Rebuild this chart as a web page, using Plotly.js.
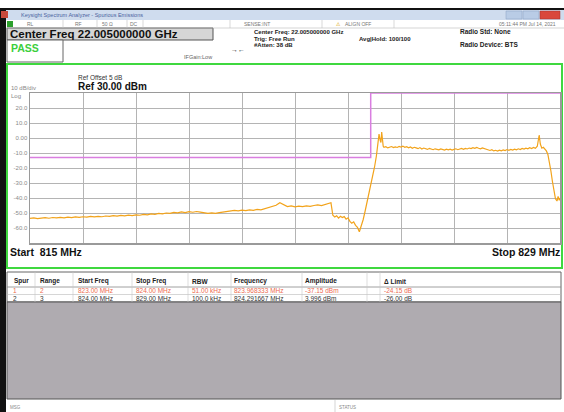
<!DOCTYPE html>
<html><head><meta charset="utf-8">
<script src="https://cdn.plot.ly/plotly-3.0.1.min.js"></script>
<style>html,body{margin:0;padding:0;background:#fff;overflow:hidden}#chart{width:564px;height:412px}</style>
</head><body><div id="chart"></div>
<script>
// ---- trace data ----
const freqMHz = [
815.0,815.1,815.2,815.3,815.4,815.5,815.6,815.7,815.8,815.9,
816.0,816.1,816.2,816.3,816.4,816.5,816.6,816.7,816.8,816.9,
817.0,817.1,817.2,817.3,817.4,817.5,817.6,817.7,817.8,817.9,
818.0,818.1,818.2,818.3,818.4,818.5,818.6,818.7,818.8,818.9,
819.0,819.1,819.2,819.3,819.4,819.5,819.6,819.7,819.8,819.9,
820.0,820.1,820.2,820.3,820.4,820.5,820.6,820.7,820.8,820.9,
821.0,821.1,821.2,821.3,821.4,821.5,821.6,821.7,821.8,821.9,
822.0,822.1,822.2,822.3,822.4,822.5,822.6,822.7,822.8,822.9,
822.95,823.0,823.05,823.1,823.15,823.2,823.25,823.3,823.35,823.4,
823.45,823.5,823.55,823.6,823.65,823.7,823.75,823.8,823.85,823.9,
823.95,824.0,824.05,824.1,824.15,824.18,824.2,824.22,824.25,824.27,
824.29,824.31,824.33,824.35,
824.40,824.45,824.50,824.55,824.60,824.65,824.70,824.75,824.80,824.85,
824.90,824.95,825.00,825.05,825.10,825.15,825.20,825.25,825.30,825.35,
825.40,825.45,825.50,825.55,825.60,825.65,825.70,825.75,825.80,825.85,
825.90,825.95,826.00,826.05,826.10,826.15,826.20,826.25,826.30,826.35,
826.40,826.45,826.50,826.55,826.60,826.65,826.70,826.75,826.80,826.85,
826.90,826.95,827.00,827.05,827.10,827.15,827.20,827.25,827.30,827.35,
827.40,827.45,827.50,827.55,827.60,827.65,827.70,827.75,827.80,827.85,
827.90,827.95,828.00,828.05,828.10,828.15,828.20,828.25,828.30,828.35,
828.40,828.43,828.45,828.48,828.52,828.56,828.60,828.64,828.68,828.72,
828.76,828.80,828.84,828.88,828.92,828.95,828.98,829.00
];
const ampDbm = [
-53.6,-53.2,-53.8,-53.4,-53.1,-53.5,-53.0,-53.3,-52.9,-53.2,
-52.8,-53.1,-52.6,-52.9,-52.5,-52.8,-52.3,-52.6,-52.2,-52.5,
-52.0,-52.3,-51.8,-52.1,-51.6,-51.9,-51.4,-51.7,-51.2,-51.5,
-50.9,-51.2,-50.6,-50.9,-50.3,-50.6,-50.0,-50.3,-49.6,-49.9,
-49.3,-49.7,-49.1,-49.5,-49.0,-49.4,-49.8,-50.2,-49.9,-50.3,
-49.7,-49.4,-49.0,-48.8,-48.3,-48.6,-48.1,-48.4,-47.9,-48.2,
-47.6,-47.9,-47.2,-46.5,-45.6,-44.8,-43.2,-44.6,-45.7,-45.3,
-45.9,-45.4,-45.8,-45.2,-45.6,-45.0,-44.6,-45.1,-44.4,-43.8,
-43.2,-51.5,-52.6,-51.8,-53.4,-52.2,-53.0,-52.4,-54.1,-53.2,
-55.6,-56.8,-55.9,-58.2,-59.6,-62.5,-58.8,-54.5,-49.0,-43.5,
-36.0,-30.5,-25.5,-19.5,-12.0,-4.0,1.0,2.6,-1.5,-3.0,
4.0,-2.5,-5.5,-6.2,
-5.8,-6.6,-6.1,-5.7,-6.4,-5.9,-6.3,-5.6,-6.0,-5.4,
-6.2,-5.8,-6.5,-6.0,-6.8,-6.2,-6.6,-7.1,-6.4,-7.3,
-6.7,-7.0,-7.6,-6.9,-7.4,-7.8,-7.2,-7.6,-7.9,-7.3,
-7.7,-8.1,-7.5,-7.9,-7.4,-8.0,-7.6,-7.2,-7.8,-7.3,
-7.0,-7.5,-6.9,-7.3,-6.7,-7.1,-6.5,-6.9,-6.3,-6.8,
-7.2,-6.6,-7.0,-7.5,-7.9,-8.3,-7.8,-8.6,-8.2,-8.7,
-8.1,-8.5,-7.9,-8.4,-7.7,-8.2,-7.6,-8.0,-7.4,-7.9,
-7.2,-7.7,-7.0,-7.4,-6.8,-7.2,-6.5,-7.0,-6.3,-6.9,
-5.5,-1.0,2.0,-4.0,-6.8,-6.2,-7.5,-8.6,-11.0,-15.5,
-22.0,-29.0,-36.0,-40.5,-42.0,-39.0,-41.5,-40.0
];
const limitFreqMHz = [815, 824, 824, 829];
const limitDbm = [-13, -13, 30, 30];
const yTickVals = [20, 10, 0, -10, -20, -30, -40, -50, -60];
const yTickText = ['20.0','10.0','0.00','-10.0','-20.0','-30.0','-40.0','-50.0','-60.0'];
const xGridMHz = [816.4, 817.8, 819.2, 820.6, 822.0, 823.4, 824.8, 826.2, 827.6];
const tableHeader = ['Spur','Range','Start Freq','Stop Freq','RBW','Frequency','Amplitude','\u0394 Limit'];
const spurRow1 = ['1','2','823.00 MHz','824.00 MHz','51.00 kHz','823.968333 MHz','-37.15 dBm','-24.15 dB'];
const spurRow2 = ['2','3','824.00 MHz','829.00 MHz','100.0 kHz','824.291667 MHz','3.996 dBm','-26.00 dB'];

// ---- page geometry helpers (pixel -> paper) ----
const W = 564, H = 412;
const px = x => x / W;
const py = y => 1 - y / H;
const FONT = 'Liberation Sans, Arial, sans-serif';

const shapes = [];
const ann = [];
function rect(x0, y0, x1, y1, fill, line, lw) {
  shapes.push({type:'rect', xref:'paper', yref:'paper', x0:px(x0), x1:px(x1), y0:py(y1), y1:py(y0),
    fillcolor: fill || 'rgba(0,0,0,0)', line:{color: line || 'rgba(0,0,0,0)', width: lw || 0}, layer:'below'});
}
function hline(x0, x1, y, color, w) {
  shapes.push({type:'line', xref:'paper', yref:'paper', x0:px(x0), x1:px(x1), y0:py(y), y1:py(y), line:{color, width:w||1}});
}
function vline(x, y0, y1, color, w) {
  shapes.push({type:'line', xref:'paper', yref:'paper', x0:px(x), x1:px(x), y0:py(y0), y1:py(y1), line:{color, width:w||1}});
}
function txt(x, y, s, size, color, opts) {
  opts = opts || {};
  ann.push({xref:'paper', yref:'paper', x:px(x), y:py(y), text:s, showarrow:false,
    xanchor: opts.anchor || 'left', yanchor:'middle', borderpad:0,
    font:{family: FONT, size, color, weight: opts.bold ? 'bold' : 'normal'}});
}

// window frame
rect(0, 0, 564, 9, '#ffffff');
rect(0, 8, 564, 10, '#111111');
rect(0, 8, 6, 412, '#111111');
// title bar
rect(6, 10, 564, 20, '#cfdcee');
rect(1, 11, 8, 18, '#c84a3c');
txt(20, 15, 'Keysight Spectrum Analyzer - Spurious Emissions', 5.5, '#4a63a0');
rect(506, 11, 522, 19, '#b9cce6', '#8aa0c0', 0.5);
rect(523, 11, 539, 19, '#b9cce6', '#8aa0c0', 0.5);
rect(540, 11, 560, 19, '#d9473c', '#a03028', 0.5);
// status row
rect(6, 20, 564, 28, '#ffffff');
hline(6, 564, 28, '#b8b8b8', 0.6);
rect(7, 21, 13, 27, '#2da02d');
[63, 97, 127, 143, 230, 322, 394].forEach(x => vline(x, 20, 28, '#c0c0c0', 0.6));
txt(26, 24, 'RL', 5, '#777');
txt(74, 24, 'RF', 5, '#777');
txt(101, 24, '50 \u03A9', 5, '#777');
txt(129, 24, 'DC', 5, '#777');
txt(243, 24, 'SENSE:INT', 5, '#777');
txt(335, 24, '\u26A0', 5, '#d8a000');
txt(344, 24, 'ALIGN OFF', 5, '#777');
txt(557, 24, '05:11:44 PM Jul 14, 2021', 5, '#777', {anchor:'right'});
// center freq box
rect(7, 28, 213, 40, '#d6d6d6', '#555555', 1);
txt(9, 34, 'Center Freq 22.005000000 GHz', 11.5, '#111', {bold:true});
// PASS box
rect(7, 40, 63, 62, '#ffffff', '#666666', 1);
txt(10, 48, 'PASS', 10.5, '#3ccf3c', {bold:true});
txt(183, 57, 'IFGain:Low', 5.5, '#666');
txt(230, 49, '\u2192\u2190', 7, '#333');
txt(253, 32, 'Center Freq: 22.005000000 GHz', 6, '#222', {bold:true});
txt(253, 38.5, 'Trig: Free Run', 6, '#222', {bold:true});
txt(253, 45, '#Atten: 38 dB', 6, '#222', {bold:true});
txt(358, 38.5, 'Avg|Hold: 100/100', 6, '#222', {bold:true});
txt(459, 32, 'Radio Std: None', 6.5, '#222', {bold:true});
txt(459, 45, 'Radio Device: BTS', 6.5, '#222', {bold:true});
// green panel
rect(7, 64, 562, 268, '#ffffff', '#3fd83f', 2);
txt(77, 77, 'Ref Offset 5 dB', 6.5, '#333');
txt(77, 86, 'Ref 30.00 dBm', 10, '#111', {bold:true});
txt(10, 88, '10 dB/div', 6, '#888');
txt(10, 96, 'Log', 6, '#888');
txt(9, 252, 'Start  815 MHz', 10.5, '#111', {bold:true});
txt(561, 252, 'Stop 829 MHz', 10.5, '#111', {bold:true, anchor:'right'});
// table
rect(7, 272, 561, 302, '#ffffff', '#666666', 1);
hline(7, 561, 287, '#888', 0.8);
hline(7, 561, 294.5, '#bbb', 0.6);
[35, 73, 132, 188, 231, 302, 367, 380].forEach(x => vline(x, 272, 302, '#c8c8c8', 0.6));
const colX = [12, 39, 77, 135, 191, 233, 304, 383];
tableHeader.forEach((s, i) => txt(colX[i] + (i === 0 ? 1 : 0), 281, s, 6.5, '#222', {bold:true}));
spurRow1.forEach((s, i) => txt(colX[i], 290.5, s, 6.5, '#ee6a50'));
spurRow2.forEach((s, i) => txt(colX[i], 298.5, s, 6.5, '#333'));
rect(7, 302, 561, 399, '#afabb0', '#555', 1);
// status bar
rect(6, 400, 564, 412, '#ffffff');
vline(335, 400, 412, '#bbb', 0.6);
txt(9, 407, 'MSG', 4.5, '#888');
txt(338, 407, 'STATUS', 4.5, '#888');

const data = [
  {x: limitFreqMHz, y: limitDbm, type:'scatter', mode:'lines', line:{color:'#d97ee0', width:1.5}, hoverinfo:'skip'},
  {x: freqMHz, y: ampDbm, type:'scatter', mode:'lines', line:{color:'#f2a31b', width:1.2}, hoverinfo:'skip'}
];

const layout = {
  width: W, height: H,
  margin: {l:0, r:0, t:0, b:0},
  paper_bgcolor: 'rgba(0,0,0,0)',
  plot_bgcolor: 'rgba(0,0,0,0)',
  showlegend: false,
  xaxis: {
    domain: [px(30), px(560)], range: [815, 829],
    tickvals: xGridMHz, showticklabels: false, ticks: '',
    showgrid: true, gridcolor: '#b4b4b4', gridwidth: 1,
    zeroline: false, showline: true, mirror: true, linecolor: '#9a9a9a', linewidth: 1.5
  },
  yaxis: {
    domain: [py(243), py(93)], range: [-70, 30],
    tickvals: yTickVals, ticktext: yTickText, ticks: '',
    tickfont: {family: FONT, size: 6, color: '#8a8a8a'},
    showgrid: true, gridcolor: '#b4b4b4', gridwidth: 1, dtick: 10,
    zeroline: false, showline: true, mirror: true, linecolor: '#9a9a9a', linewidth: 1.5
  },
  shapes: shapes,
  annotations: ann
};

Plotly.newPlot('chart', data, layout, {staticPlot: true, displayModeBar: false});
</script>
</body></html>
